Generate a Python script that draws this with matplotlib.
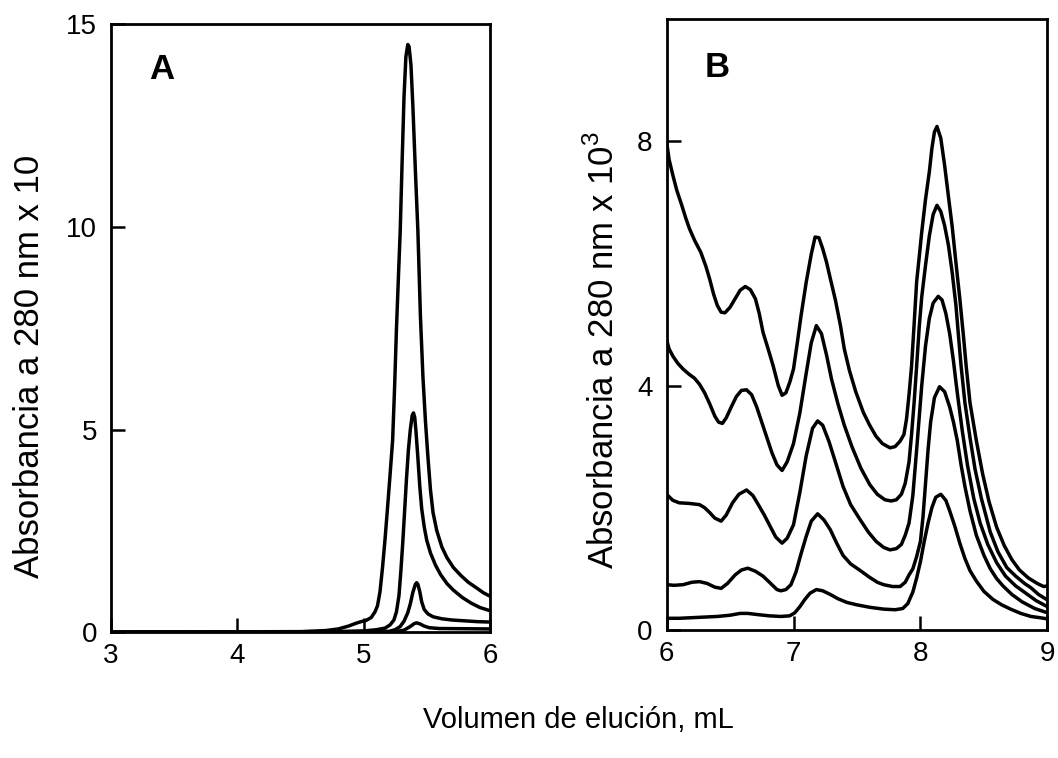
import matplotlib
matplotlib.use('Agg')
from matplotlib import pyplot as plt

plt.rcParams['font.family'] = ['Liberation Sans', 'DejaVu Sans']
plt.rcParams['mathtext.fontset'] = 'custom'
plt.rcParams['mathtext.rm'] = 'Liberation Sans'

# Panel A: absorbance x 10 vs elution volume (mL)
a1_x = [3.0, 4.0, 4.5, 4.7, 4.8, 4.88, 4.94, 4.98, 5.02, 5.06, 5.09, 5.11, 5.13, 5.15, 5.17,
        5.19, 5.21, 5.23, 5.245, 5.26, 5.275, 5.29, 5.305, 5.32, 5.335, 5.35, 5.36, 5.375, 5.39,
        5.41, 5.43, 5.45, 5.47, 5.49, 5.51, 5.53, 5.55, 5.58, 5.62, 5.66, 5.71, 5.77, 5.83, 5.9,
        5.95, 6.0]
a1_y = [0, 0, 0.01, 0.04, 0.08, 0.15, 0.22, 0.26, 0.29, 0.36, 0.5, 0.65, 1.0, 1.6, 2.3,
        3.09, 3.9, 4.74, 6.0, 7.46, 8.7, 9.9, 11.6, 13.2, 14.2, 14.5, 14.45, 14.0, 13.0,
        11.4, 9.9, 7.8, 6.3, 5.2, 4.3, 3.5, 2.95, 2.5, 2.1, 1.84, 1.6, 1.4, 1.23, 1.08,
        0.97, 0.89]

a2_x = [3.0, 4.8, 5.0, 5.1, 5.17, 5.21, 5.24, 5.26, 5.28, 5.295, 5.31, 5.325, 5.34, 5.355, 5.37,
        5.385, 5.395, 5.405, 5.415, 5.43, 5.445, 5.46, 5.48, 5.50, 5.53, 5.57, 5.61, 5.66, 5.71,
        5.78, 5.85, 5.92, 6.0]
a2_y = [0, 0.01, 0.03, 0.06, 0.1, 0.18, 0.3, 0.5, 0.9, 1.5, 2.2, 3.0, 3.8, 4.5, 5.0,
        5.35, 5.41, 5.3, 4.95, 4.3, 3.6, 3.05, 2.6, 2.27, 1.95, 1.65, 1.42, 1.2, 1.04,
        0.86, 0.72, 0.61, 0.53]

a3_x = [3.0, 5.2, 5.25, 5.29, 5.32, 5.35, 5.37, 5.39, 5.41, 5.42, 5.43, 5.445, 5.46, 5.48, 5.51,
        5.55, 5.62, 5.7, 5.8, 5.9, 6.0]
a3_y = [0, 0.02, 0.06, 0.14, 0.27, 0.48, 0.7, 0.98, 1.18, 1.22, 1.18, 1.0, 0.75, 0.56, 0.45,
        0.38, 0.33, 0.3, 0.28, 0.26, 0.25]

a4_x = [3.0, 5.25, 5.32, 5.37, 5.40, 5.42, 5.45, 5.48, 5.52, 5.6, 6.0]
a4_y = [0, 0.01, 0.05, 0.14, 0.21, 0.23, 0.2, 0.15, 0.11, 0.09, 0.08]

# Panel B: absorbance x 10^3 vs elution volume (mL)
b1_x = [6.00, 6.02, 6.05, 6.08, 6.12, 6.15, 6.18, 6.22, 6.27, 6.31, 6.34, 6.37, 6.40, 6.43, 6.46,
        6.50, 6.54, 6.58, 6.62, 6.66, 6.70, 6.73, 6.76, 6.80, 6.84, 6.88, 6.91, 6.94, 6.97, 7.00,
        7.03, 7.06, 7.10, 7.14, 7.17, 7.20, 7.23, 7.26, 7.29, 7.33, 7.37, 7.40, 7.44, 7.49, 7.55,
        7.60, 7.65, 7.70, 7.76, 7.80, 7.84, 7.87, 7.89, 7.91, 7.93, 7.95, 7.97, 7.99, 8.01, 8.04,
        8.07, 8.09, 8.11, 8.13, 8.16, 8.19, 8.22, 8.25, 8.28, 8.31, 8.34, 8.36, 8.39, 8.44, 8.49,
        8.54, 8.60, 8.66, 8.72, 8.78, 8.85, 8.92, 8.97, 9.00]
b1_y = [8.0, 7.7, 7.44, 7.2, 6.95, 6.75, 6.57, 6.38, 6.18, 5.95, 5.74, 5.5, 5.31, 5.2, 5.19,
        5.28, 5.42, 5.56, 5.62, 5.57, 5.42, 5.18, 4.87, 4.6, 4.32, 4.0, 3.84, 3.88, 4.05, 4.27,
        4.7, 5.15, 5.69, 6.15, 6.43, 6.42, 6.24, 6.02, 5.75, 5.4, 4.98, 4.6, 4.25, 3.9, 3.56,
        3.35, 3.17, 3.05, 2.98, 3.0, 3.09, 3.2, 3.45, 3.85, 4.32, 5.0, 5.7, 6.1, 6.51, 7.05,
        7.5, 7.88, 8.15, 8.24, 8.05, 7.61, 7.1, 6.6, 6.0, 5.42, 4.78, 4.32, 3.72, 3.1, 2.55,
        2.1, 1.68, 1.38, 1.15, 0.98, 0.85, 0.76, 0.71, 0.72]

b2_x = [6.0, 6.02, 6.05, 6.09, 6.13, 6.18, 6.22, 6.26, 6.30, 6.34, 6.38, 6.41, 6.44, 6.47, 6.51,
        6.55, 6.59, 6.63, 6.67, 6.71, 6.75, 6.79, 6.83, 6.87, 6.91, 6.95, 7.0, 7.05, 7.10, 7.14,
        7.18, 7.22, 7.26, 7.30, 7.35, 7.40, 7.46, 7.53, 7.60, 7.66, 7.72, 7.77, 7.81, 7.85, 7.88,
        7.91, 7.93, 7.95, 7.97, 7.99, 8.01, 8.04, 8.07, 8.10, 8.13, 8.16, 8.19, 8.22, 8.25, 8.28,
        8.30, 8.32, 8.35, 8.39, 8.43, 8.48, 8.55, 8.61, 8.68, 8.75, 8.82, 8.87, 8.93, 9.0]
b2_y = [4.75, 4.6, 4.48, 4.36, 4.27, 4.18, 4.12, 4.02, 3.88, 3.7, 3.5, 3.4, 3.38, 3.47, 3.65,
        3.82, 3.92, 3.93, 3.85, 3.65, 3.4, 3.15, 2.9, 2.7, 2.61, 2.75, 3.05, 3.55, 4.2, 4.7,
        4.98, 4.85, 4.5, 4.1, 3.7, 3.35, 3.0, 2.65, 2.38, 2.22, 2.13, 2.11, 2.13, 2.22, 2.4,
        2.75, 3.2, 3.72, 4.32, 4.95, 5.45, 5.97, 6.45, 6.8, 6.95, 6.85, 6.62, 6.3, 5.85, 5.3,
        4.8, 4.32, 3.72, 3.15, 2.63, 2.15, 1.6, 1.28, 1.02, 0.88, 0.76, 0.69, 0.58, 0.49]

b3_x = [6.0, 6.05, 6.10, 6.18, 6.26, 6.30, 6.34, 6.38, 6.43, 6.47, 6.52, 6.57, 6.63, 6.68, 6.72,
        6.77, 6.81, 6.86, 6.91, 6.95, 7.0, 7.05, 7.10, 7.15, 7.19, 7.23, 7.28, 7.33, 7.39, 7.45,
        7.52, 7.59, 7.65, 7.71, 7.76, 7.81, 7.85, 7.88, 7.91, 7.94, 7.97, 8.01, 8.04, 8.07, 8.10,
        8.14, 8.17, 8.20, 8.23, 8.26, 8.28, 8.30, 8.33, 8.37, 8.42, 8.47, 8.53, 8.60, 8.67, 8.75,
        8.83, 8.91, 9.0]
b3_y = [2.22, 2.12, 2.08, 2.07, 2.05, 2.0, 1.92, 1.83, 1.78, 1.88, 2.08, 2.22, 2.29, 2.2, 2.06,
        1.88, 1.72, 1.52, 1.42, 1.5, 1.72, 2.25, 2.85, 3.3, 3.42, 3.35, 3.08, 2.75, 2.35, 2.05,
        1.82, 1.6, 1.45, 1.35, 1.31, 1.33, 1.4, 1.55, 1.75, 2.2, 2.95, 4.0, 4.65, 5.1, 5.35,
        5.46, 5.4, 5.18, 4.85, 4.4, 4.05, 3.72, 3.25, 2.7, 2.15, 1.75, 1.4, 1.1, 0.88, 0.72,
        0.6, 0.48, 0.38]

b4_x = [6.0, 6.06, 6.13, 6.2, 6.26, 6.32, 6.38, 6.43, 6.48, 6.54, 6.59, 6.64, 6.70, 6.76, 6.82,
        6.87, 6.90, 6.94, 6.98, 7.02, 7.06, 7.10, 7.14, 7.19, 7.24, 7.29, 7.34, 7.39, 7.45, 7.52,
        7.6, 7.66, 7.71, 7.78, 7.84, 7.88, 7.91, 7.94, 7.97, 8.0, 8.02, 8.04, 8.06, 8.08, 8.11,
        8.15, 8.19, 8.23, 8.26, 8.29, 8.32, 8.35, 8.39, 8.44, 8.50, 8.55, 8.60, 8.65, 8.72, 8.80,
        8.9, 9.0]
b4_y = [0.74, 0.73, 0.74, 0.78, 0.79, 0.76, 0.7, 0.68, 0.76, 0.9, 0.98, 1.01, 0.96, 0.88, 0.76,
        0.66, 0.64, 0.66, 0.74, 0.95, 1.25, 1.53, 1.78, 1.9, 1.8, 1.64, 1.42, 1.22, 1.08, 0.98,
        0.86, 0.78, 0.74, 0.71, 0.71, 0.78, 0.9, 1.0, 1.2, 1.45, 1.85, 2.4, 2.95, 3.4, 3.8,
        3.98, 3.9, 3.65, 3.4, 3.1, 2.7, 2.35, 1.95, 1.55, 1.22, 1.0, 0.84, 0.72, 0.58, 0.46,
        0.35, 0.28]

b5_x = [6.0, 6.1, 6.2, 6.3, 6.4, 6.5, 6.58, 6.64, 6.72, 6.81, 6.9, 6.97, 7.01, 7.05, 7.09,
        7.13, 7.18, 7.23, 7.29, 7.35, 7.42, 7.5, 7.6, 7.71, 7.8, 7.86, 7.9, 7.94, 7.97, 8.0,
        8.03, 8.06, 8.09, 8.12, 8.16, 8.20, 8.23, 8.27, 8.31, 8.35, 8.39, 8.44, 8.50, 8.57, 8.64,
        8.71, 8.79, 8.87, 8.94, 9.0]
b5_y = [0.19, 0.19, 0.2, 0.21, 0.22, 0.24, 0.27, 0.27, 0.25, 0.23, 0.22, 0.23, 0.28, 0.38, 0.5,
        0.6, 0.66, 0.64, 0.58, 0.51, 0.45, 0.41, 0.37, 0.34, 0.33, 0.35, 0.43, 0.62, 0.85, 1.12,
        1.45, 1.75, 2.0, 2.17, 2.22, 2.12, 1.95, 1.7, 1.42, 1.17, 0.97, 0.8, 0.63, 0.5, 0.41,
        0.34, 0.27, 0.22, 0.2, 0.18]

a_xticks = [3, 4, 5, 6]
a_yticks = [0, 5, 10, 15]
b_xticks = [6, 7, 8, 9]
b_yticks = [0, 4, 8]

fig = plt.figure(figsize=(10.58, 7.58), dpi=100)
ax_a = fig.add_axes([0.105, 0.166, 0.358, 0.802])
ax_b = fig.add_axes([0.630, 0.169, 0.360, 0.806])

for x, y in [(a1_x, a1_y), (a2_x, a2_y), (a3_x, a3_y), (a4_x, a4_y)]:
    ax_a.plot(x, y, color='black', lw=2.5, solid_joinstyle='round')
for x, y in [(b1_x, b1_y), (b2_x, b2_y), (b3_x, b3_y), (b4_x, b4_y), (b5_x, b5_y)]:
    ax_b.plot(x, y, color='black', lw=2.5, solid_joinstyle='round')

ax_a.set_xlim(3, 6)
ax_a.set_ylim(0, 15)
ax_a.set_xticks(a_xticks)
ax_a.set_yticks(a_yticks)
ax_b.set_xlim(6, 9)
ax_b.set_ylim(0, 10)
ax_b.set_xticks(b_xticks)
ax_b.set_yticks(b_yticks)

for ax in (ax_a, ax_b):
    for s in ax.spines.values():
        s.set_linewidth(2.0)
    ax.tick_params(axis='both', direction='in', length=10, width=1.8, labelsize=20)
    ax.tick_params(axis='y', pad=10)
    ax.tick_params(axis='x', pad=8)

ax_a.text(0.1, 0.925, 'A', transform=ax_a.transAxes, fontsize=25, fontweight='bold', va='center')
ax_b.text(0.1, 0.92, 'B', transform=ax_b.transAxes, fontsize=25, fontweight='bold', va='center')

fig.text(30 / 1058, 1 - 366 / 758, 'Absorbancia a 280 nm x 10', rotation=90,
         ha='center', va='center', fontsize=25)
fig.text(603 / 1058, 1 - 350 / 758, r'Absorbancia a 280 nm x 10$^{\mathrm{3}}$', rotation=90,
         ha='center', va='center', fontsize=25)
fig.text(578 / 1058, 1 - 720 / 758, 'Volumen de elución, mL', ha='center', va='center', fontsize=21)

plt.savefig('out.png', dpi=100)
